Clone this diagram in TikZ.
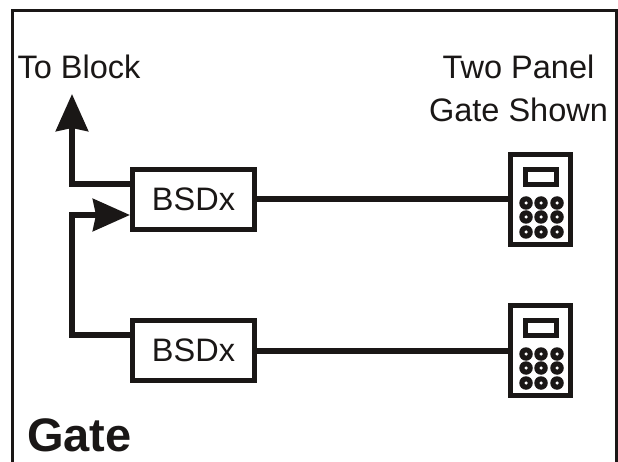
\documentclass[tikz,border=0pt]{standalone}
\usepackage{fontspec}
\setmainfont{Liberation Sans}
\usetikzlibrary{arrows.meta}
\definecolor{ink}{HTML}{1A1716}
\tikzset{
  x=1pt,y=-1pt,
  frameline/.style={draw=ink,line width=3pt},
  bsd/.style={draw=ink,line width=5pt,fill=white,minimum width=122pt,minimum height=60pt,inner sep=0pt,text=ink,font=\fontsize{32.5}{32.5}\selectfont},
  wire/.style={draw=ink,line width=6pt},
  flow/.style={wire,-{Stealth[length=37pt,width=32pt,inset=3pt]}},
  label/.style={text=ink,font=\fontsize{32.5}{43}\selectfont,align=center,inner sep=0pt},
  keypad/.style={draw=ink,line width=5pt,fill=white,minimum width=60pt,minimum height=90pt,inner sep=0pt},
  screen/.style={draw=ink,line width=5pt,fill=white,minimum width=31pt,minimum height=15pt,inner sep=0pt},
  keyb/.style={circle,fill=ink,minimum size=13.5pt,inner sep=0pt},
  keydot/.style={circle,fill=white,minimum size=3.5pt,inner sep=0pt},
}
\begin{document}
\begin{tikzpicture}
\useasboundingbox (0,0) rectangle (618,462);
\fill[white] (0,0) rectangle (618,462);
\coordinate (fbl) at (12,462);
\coordinate (ftl) at (12,11);
\coordinate (ftr) at (616.5,11);
\coordinate (fbr) at (616.5,462);
\draw[frameline] (fbl) -- (ftl) -- (ftr) -- (fbr);

\node[bsd] (b1) at (193.5,199.5) {BSDx};
\node[bsd] (b2) at (193.5,350.5) {BSDx};

\node[keypad] (k1) at (540.5,199.5) {};
\node[keypad] (k2) at (540.5,350.5) {};
\node[screen] (s1) at (541,177) {};
\node[screen] (s2) at (541,328) {};
\foreach \k/\oy in {a/0,b/151}{
  \foreach \cx in {526,541,557}{
    \foreach \cy in {203,217,232}{
      \node[keyb] (key\k\cx\cy) at (\cx,\cy+\oy) {};
      \node[keydot] (dot\k\cx\cy) at (\cx,\cy+\oy) {};
    }
  }
}

\node[label,anchor=base] (toblock) at (79,79) {To Block};
\node[label,anchor=base] (twopanel) at (518.5,79) {Two Panel};
\node[label,anchor=base] (gateshown) at (518.5,122) {Gate Shown};
\node[text=ink,font=\fontsize{47}{47}\selectfont\bfseries,anchor=base,inner sep=0pt] (gate) at (79.5,451) {Gate};

\coordinate (up) at (72,94);
\coordinate (c1) at (72,184);
\coordinate (b1out) at (b1.west |- c1);
\coordinate (c2) at (72,215);
\coordinate (b1in) at (b1.west |- c2);
\coordinate (c3) at (72,335);
\coordinate (b2out) at (b2.west |- c3);
\draw[flow] (b1out) -- (c1) -- (up);
\draw[flow] (b2out) -- (c3) -- (c2) -- (b1in);
\draw[wire] (b1.east) -- (k1.west);
\draw[wire] (b2.east) -- (k2.west);
\end{tikzpicture}
\end{document}
